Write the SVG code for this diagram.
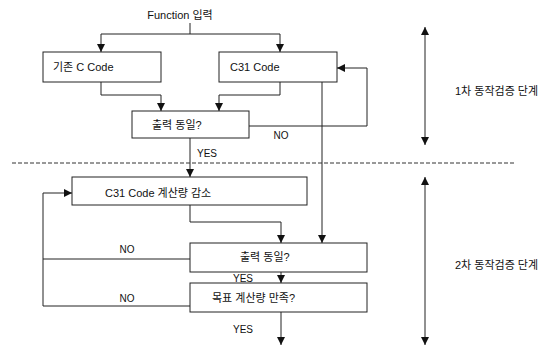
<svg xmlns="http://www.w3.org/2000/svg" width="551" height="349" viewBox="0 0 551 349">
<style>
text{font-family:"Liberation Sans","Noto Sans CJK KR",sans-serif;font-size:11px;fill:#111}
text.lb{font-size:10px}
.box{fill:#fff;stroke:#222;stroke-width:1}
.ln{fill:none;stroke:#222;stroke-width:1}
.ar{marker-end:url(#ah)}
.dd{marker-start:url(#ah);marker-end:url(#ah)}
.dash{fill:none;stroke:#333;stroke-width:1;stroke-dasharray:4,2}
</style>
<defs>
<marker id="ah" markerUnits="userSpaceOnUse" markerWidth="8" markerHeight="8" refX="8" refY="4" orient="auto-start-reverse">
<path d="M0,0 L8,4 L0,8 z" fill="#111"/>
</marker>
</defs>
<rect width="551" height="349" fill="#fff"/>
<g id="connectors">
<path class="ln" d="M190,23 V34"/>
<path class="ln ar" d="M190,34 H101 V52"/>
<path class="ln ar" d="M190,34 H280 V52"/>
<path class="ln ar" d="M101,82 V95 H161 V111"/>
<path class="ln ar" d="M280,82 V95 H219 V111"/>
<path class="ln ar" d="M249,126 H367 V68 H337"/>
<path class="ln ar" d="M322,82 V243"/>
<path class="ln ar" d="M190,138 V177"/>
<path class="ln ar" d="M190,205 V222 H281 V243"/>
<path class="ln ar" d="M190,259 H43 V193 H72"/>
<path class="ln" d="M190,306 H43 V259"/>
<path class="ln ar" d="M281,272 V283"/>
<path class="ln ar" d="M281,312 V345"/>
<path class="ln dd" d="M425,27 V145"/>
<path class="ln dd" d="M425,177 V345"/>
<path class="dash" d="M12,163 H514"/>
<text class="lb" x="281" y="139" text-anchor="middle">NO</text>
<text class="lb" x="197" y="157">YES</text>
<text class="lb" x="127" y="253" text-anchor="middle">NO</text>
<text class="lb" x="127" y="302" text-anchor="middle">NO</text>
<text class="lb" x="233" y="282">YES</text>
<text class="lb" x="233" y="333">YES</text>
</g>
<g id="input"><text x="180" y="19" text-anchor="middle">Function 입력</text></g>
<g id="c-code"><rect class="box" x="43" y="52" width="118" height="30"/><text x="53" y="71">기존 C  Code</text></g>
<g id="c31-code"><rect class="box" x="219" y="52" width="118" height="30"/><text x="230" y="71">C31 Code</text></g>
<g id="check1"><rect class="box" x="132" y="111" width="117" height="27"/><text x="152" y="129">출력 동일?</text></g>
<g id="reduce"><rect class="box" x="72" y="177" width="235" height="28"/><text x="105" y="197">C31 Code 계산량 감소</text></g>
<g id="check2"><rect class="box" x="190" y="243" width="177" height="29"/><text x="240" y="261">출력 동일?</text></g>
<g id="goal"><rect class="box" x="190" y="283" width="177" height="29"/><text x="212" y="302">목표 계산량 만족?</text></g>
<g id="stage1"><text x="455" y="95">1차 동작검증 단계</text></g>
<g id="stage2"><text x="455" y="269">2차 동작검증 단계</text></g>
</svg>
